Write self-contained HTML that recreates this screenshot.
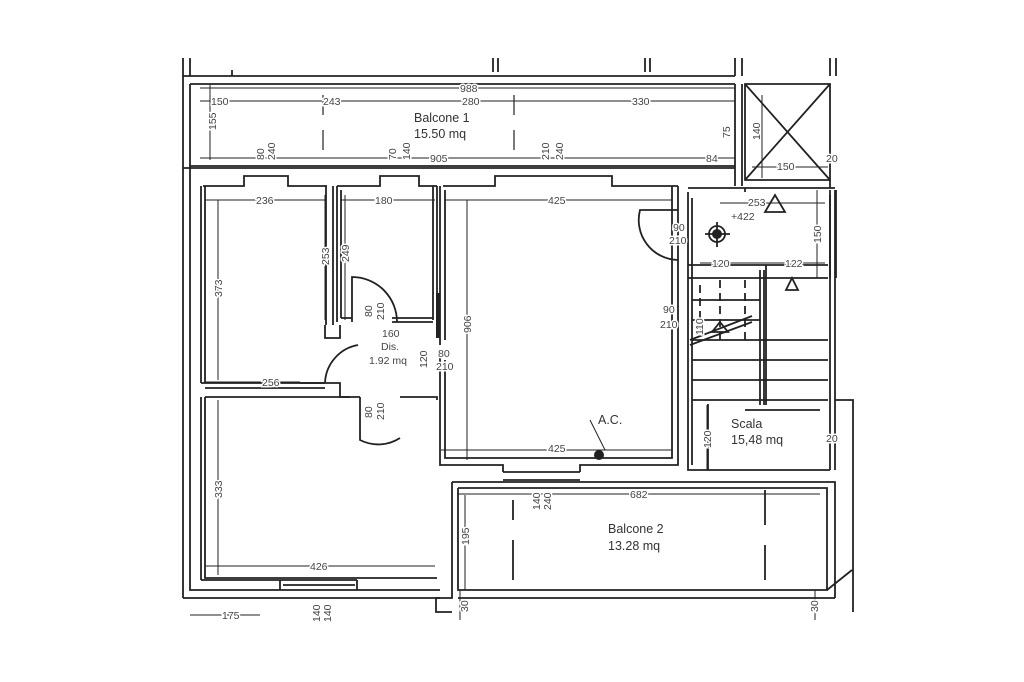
<!DOCTYPE html>
<html><head><meta charset="utf-8"><style>
html,body{margin:0;padding:0;background:#fff;}
svg{display:block}
text{font-family:"Liberation Sans",sans-serif;fill:#333;}
.d{font-size:10.5px;fill:#444;stroke:#fff;stroke-width:3px;paint-order:stroke}
.l{font-size:12.5px;fill:#333}
</style></head><body>
<svg width="1024" height="682" viewBox="0 0 1024 682" xmlns="http://www.w3.org/2000/svg">
<g fill="none" stroke="#222" stroke-width="1.8">
<path d="M183 58V76M190 58V76M493 58V72M498 58V72M645 58V72M650 58V72M735 58V76M742 58V76M830 58V76M836 58V76M232 70V76"/>
<path d="M183 76H735M190 84H735M190 84V166M183 76V598M183 598H440M190 160V590H440"/>
<path d="M183 168H735"/>
<path d="M190 166H735M203 186H244V176H288V186H327M337 186H380V176H419V186H437M443 186H495V176H612V186H678"/>
<path d="M201 186V383M205 186V383M201 383H325M205 388H300M326 186V325M333 186V325M201 397V580M205 397V578H437M201 580H280V590M280 580H357M357 580V590M283 585H355"/>
<path d="M337 186V322M341 190V318M437 186V325M433 186V320M341 318H352M392 322H433M392 318H433"/>
<path d="M352 322V277A45 45 0 0 1 397 322" />
<rect x="436" y="293" width="4" height="45" fill="#222" stroke="none"/>
<path d="M325 325V338H340V325M300 388H325M300 383H340V397H360M325 383A40 40 0 0 1 358 345M360 397V440A40 40 0 0 0 400 438M400 397H437V400"/>
<path d="M205 397H350"/>
<path d="M440 350V465H503V472M445 360V458H672V186M678 186V465H580V472M503 472H580M503 480H580M440 186V345M445 190V340"/>
<path d="M678 210H640A40 40 0 0 0 678 260"/>
<path d="M688 188H835M688 192V470H830M692 198V465M745 192V188M830 190V470M835 190V470M745 84V180H830V84ZM745 84L830 180M830 84L745 180M735 84V186M742 84V186"/>
<path d="M688 265H828M688 278H828M692 300H760M692 320H760M692 340H828M692 360H828M692 380H828M692 400H828M745 410H820M708 404V470M760 270V405M764 270V405M766 265V405"/>
<path d="M700 285V335M720 280V345M745 280V345" stroke-dasharray="8 5"/>
<path d="M690 345L752 322M690 340L752 316" />
<path d="M775 195L785 212H765ZM792 278L798 290H786ZM720 322L728 332H712Z"/>
<circle cx="717" cy="234" r="8"/><path d="M705 234H730M717 222V247"/>
<path d="M830 180V188M836 190V278M830 195V278"/>
<path d="M452 482H835V598M458 488H827V590H458V488M452 482V598H436V612H452M835 400H853V612M827 590L852 570M458 598H835"/>
<path d="M513 500V520M513 540V580M765 490V525M765 545V580" />
<path d="M323 95V115M514 95V115M323 130V150M514 130V150" stroke-width="1.2"/>
</g>
<g stroke="#222" stroke-width="1">
<path d="M200 88H735M200 101H735M200 158H735M205 200H325M340 200H435M445 200H672M205 382H300M205 566H435M190 615H260M457 494H820M700 263H825M720 203H825M710 168H735M752 167H828"/>
<path d="M210 85V160M218 200V380M218 400V575M325 195V320M345 195V320M467 200V460M707 405V470M817 190V278M465 495V590M762 95V178M460 590V620M815 590V620M590 420L605 450"/>
<path d="M441 450H672"/>
</g>
<g>
<text class="d" x="460" y="92">988</text>
<text class="d" x="211" y="105">150</text>
<text class="d" x="323" y="105">243</text>
<text class="d" x="462" y="105">280</text>
<text class="d" x="632" y="105">330</text>
<text class="d" x="430" y="162">905</text>
<text class="d" x="706" y="162">84</text>
<text class="d" x="256" y="204">236</text>
<text class="d" x="375" y="204">180</text>
<text class="d" x="548" y="204">425</text>
<text class="d" x="262" y="386">256</text>
<text class="d" x="382" y="337">160</text>
<text class="d" x="381" y="350">Dis.</text>
<text class="d" x="369" y="364">1.92 mq</text>
<text class="d" x="438" y="357">80</text>
<text class="d" x="436" y="370">210</text>
<text class="d" x="673" y="231">90</text>
<text class="d" x="669" y="244">210</text>
<text class="d" x="663" y="313">90</text>
<text class="d" x="660" y="328">210</text>
<text class="d" x="731" y="220">+422</text>
<text class="d" x="748" y="206">253</text>
<text class="d" x="712" y="267">120</text>
<text class="d" x="785" y="267">122</text>
<text class="d" x="777" y="170">150</text>
<text class="d" x="826" y="162">20</text>
<text class="d" x="826" y="442">20</text>
<text class="d" x="548" y="452">425</text>
<text class="d" x="630" y="498">682</text>
<text class="d" x="310" y="570">426</text>
<text class="d" x="222" y="619">175</text>
<text class="l" x="414" y="122">Balcone 1</text>
<text class="l" x="414" y="138">15.50 mq</text>
<text class="l" x="598" y="424">A.C.</text>
<text class="l" x="731" y="428">Scala</text>
<text class="l" x="731" y="444">15,48 mq</text>
<text class="l" x="608" y="533">Balcone 2</text>
<text class="l" x="608" y="550">13.28 mq</text>
<text transform="translate(216,130) rotate(-90)" class="d">155</text>
<text transform="translate(222,297) rotate(-90)" class="d">373</text>
<text transform="translate(222,498) rotate(-90)" class="d">333</text>
<text transform="translate(329,265) rotate(-90)" class="d">253</text>
<text transform="translate(349,262) rotate(-90)" class="d">249</text>
<text transform="translate(471,333) rotate(-90)" class="d">906</text>
<text transform="translate(372,317) rotate(-90)" class="d">80</text>
<text transform="translate(384,320) rotate(-90)" class="d">210</text>
<text transform="translate(372,418) rotate(-90)" class="d">80</text>
<text transform="translate(384,420) rotate(-90)" class="d">210</text>
<text transform="translate(427,368) rotate(-90)" class="d">120</text>
<text transform="translate(711,448) rotate(-90)" class="d">120</text>
<text transform="translate(469,545) rotate(-90)" class="d">195</text>
<text transform="translate(821,243) rotate(-90)" class="d">150</text>
<text transform="translate(730,138) rotate(-90)" class="d">75</text>
<text transform="translate(760,140) rotate(-90)" class="d">140</text>
<text transform="translate(264,160) rotate(-90)" class="d">80</text>
<text transform="translate(275,160) rotate(-90)" class="d">240</text>
<text transform="translate(396,160) rotate(-90)" class="d">70</text>
<text transform="translate(410,160) rotate(-90)" class="d">140</text>
<text transform="translate(549,160) rotate(-90)" class="d">210</text>
<text transform="translate(563,160) rotate(-90)" class="d">240</text>
<text transform="translate(540,510) rotate(-90)" class="d">140</text>
<text transform="translate(551,510) rotate(-90)" class="d">240</text>
<text transform="translate(320,622) rotate(-90)" class="d">140</text>
<text transform="translate(331,622) rotate(-90)" class="d">140</text>
<text transform="translate(468,612) rotate(-90)" class="d">30</text>
<text transform="translate(818,612) rotate(-90)" class="d">30</text>
<text transform="translate(703,335) rotate(-90)" class="d">110</text>
</g>
<circle cx="599" cy="455" r="5" fill="#222"/>
<circle cx="717" cy="234" r="5" fill="#222"/>
</svg>
</body></html>
